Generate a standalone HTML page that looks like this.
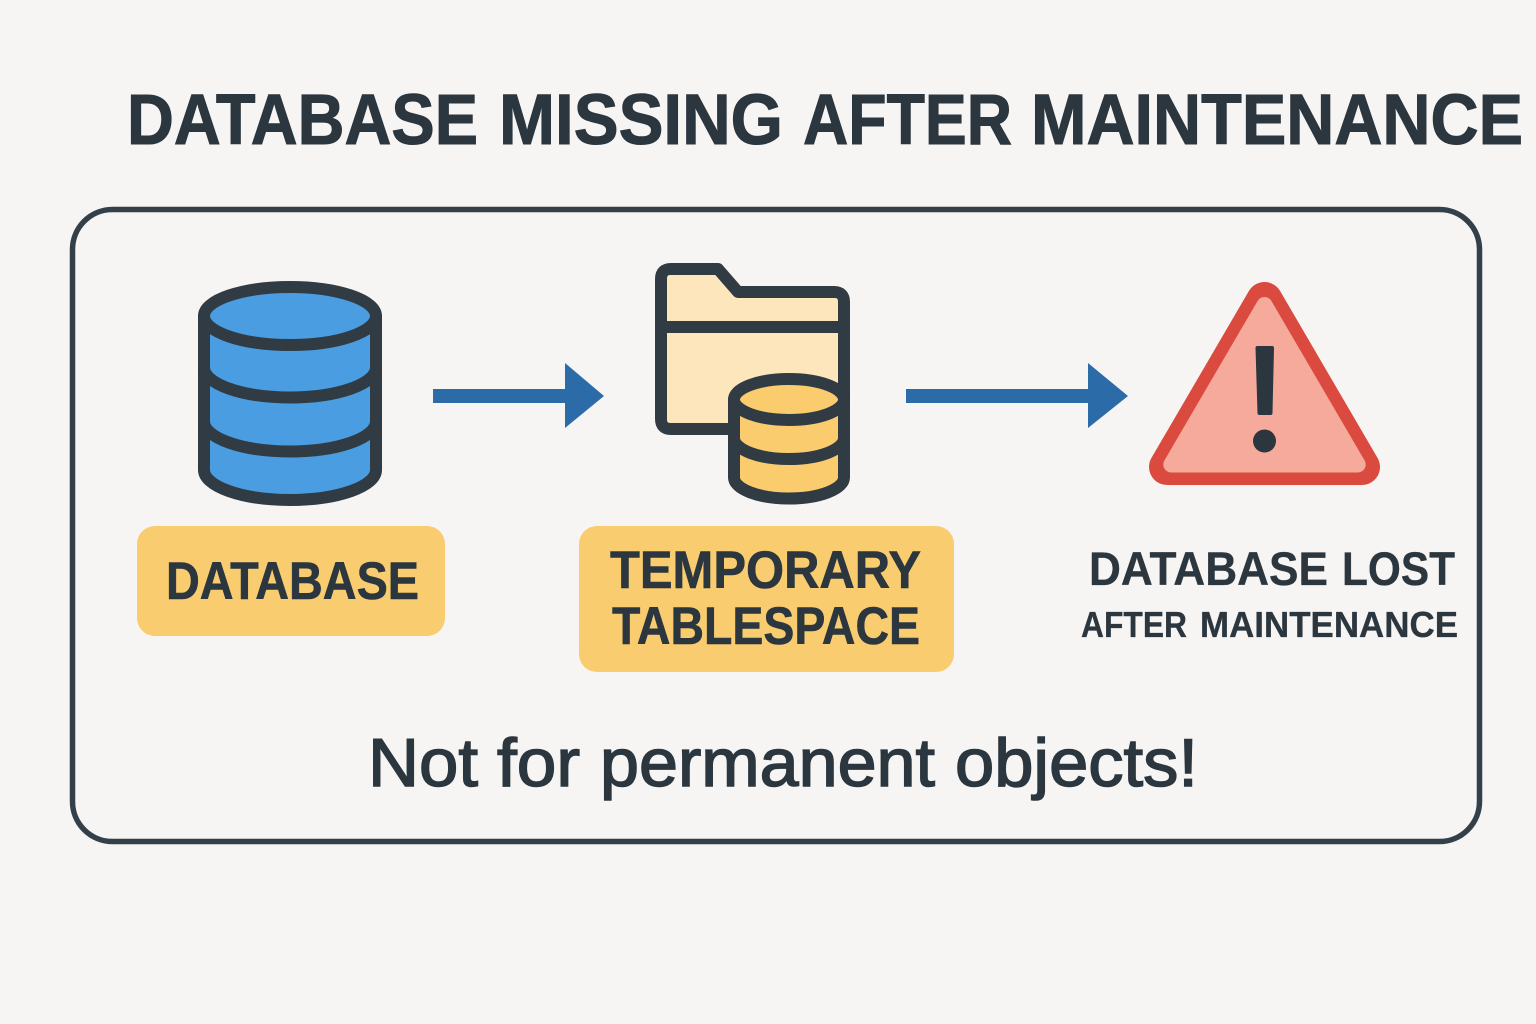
<!DOCTYPE html>
<html lang="en">
<head>
<meta charset="utf-8">
<title>Database missing after maintenance</title>
<style>
html,body{margin:0;padding:0;background:#f6f5f3;}
svg{display:block;}
text{font-family:"Liberation Sans",Arial,sans-serif;fill:#2b363f;stroke:#2b363f;}
.b{font-weight:700;}
</style>
</head>
<body>
<svg width="1536" height="1024" viewBox="0 0 1536 1024" xmlns="http://www.w3.org/2000/svg">
<rect width="1536" height="1024" fill="#f6f5f3"/>

<g stroke-width="1">
<text class="b" x="127" y="144" font-size="71" textLength="351" lengthAdjust="spacingAndGlyphs">DATABASE</text>
<text class="b" x="499" y="144" font-size="71" textLength="284" lengthAdjust="spacingAndGlyphs">MISSING</text>
<text class="b" x="803" y="144" font-size="71" textLength="209" lengthAdjust="spacingAndGlyphs">AFTER</text>
<text class="b" x="1031" y="144" font-size="71" textLength="492" lengthAdjust="spacingAndGlyphs">MAINTENANCE</text>
</g>

<rect x="72.5" y="209.5" width="1407" height="632" rx="40" ry="40" fill="none" stroke="#333f49" stroke-width="5.5"/>

<!-- database -->
<g stroke="#303b44" stroke-width="12" fill="#4a9de0">
<path d="M204 316 V470 A86 30 0 0 0 376 470 V316 Z" stroke-linejoin="round"/>
<path d="M204 367.5 A86 30 0 0 0 376 367.5" fill="none"/>
<path d="M204 421.5 A86 30 0 0 0 376 421.5" fill="none"/>
<ellipse cx="290" cy="316" rx="86" ry="29"/>
</g>

<!-- arrow 1 -->
<path d="M433 389 H565 V363 L604 396 L565 428 V403 H433 Z" fill="#2b6ca8"/>

<!-- folder -->
<path d="M671 269 H718 L738 292 H834 Q844 292 844 302 V419 Q844 429 834 429 H671 Q661 429 661 419 V279 Q661 269 671 269 Z" fill="#fde6bb" stroke="#303b44" stroke-width="12" stroke-linejoin="round"/>
<path d="M661 327 H844" stroke="#303b44" stroke-width="12" fill="none"/>

<!-- small database -->
<g stroke="#303b44" stroke-width="12" fill="#fbcc6e">
<path d="M734 399.5 V477.5 A55 21 0 0 0 844 477.5 V399.5 Z" stroke-linejoin="round"/>
<path d="M734 438 A55 21 0 0 0 844 438" fill="none"/>
<ellipse cx="789" cy="399.5" rx="55" ry="20.5"/>
</g>

<!-- arrow 2 -->
<path d="M906 389 H1088 V363 L1128 396 L1088 428 V403 H906 Z" fill="#2b6ca8"/>

<!-- warning -->
<polygon points="1264.5,300 1362,467 1167,467" fill="#db4a3e" stroke="#db4a3e" stroke-width="36" stroke-linejoin="round"/>
<polygon points="1264.5,305 1357.7,464.5 1171.3,464.5" fill="#f6aa9b" stroke="#f6aa9b" stroke-width="16" stroke-linejoin="round"/>
<path d="M1257.5 348 H1272 L1270.5 413 H1259.5 Z" fill="#2b363f" stroke="#2b363f" stroke-width="4" stroke-linejoin="round"/>
<circle cx="1264.5" cy="441" r="11.5" fill="#2b363f"/>

<!-- labels -->
<rect x="137" y="526" width="308" height="110" rx="18" fill="#f9cd6f"/>
<rect x="579" y="526" width="375" height="146" rx="18" fill="#f9cd6f"/>

<g stroke-width="0.6">
<text class="b" x="166" y="599" font-size="53" textLength="253" lengthAdjust="spacingAndGlyphs">DATABASE</text>
<text class="b" x="610" y="588" font-size="53" textLength="311" lengthAdjust="spacingAndGlyphs">TEMPORARY</text>
<text class="b" x="612" y="644" font-size="53" textLength="308" lengthAdjust="spacingAndGlyphs">TABLESPACE</text>
</g>

<g stroke-width="0.3">
<text class="b" x="1089" y="585" font-size="47" textLength="239" lengthAdjust="spacingAndGlyphs">DATABASE</text>
<text class="b" x="1342" y="585" font-size="47" textLength="113" lengthAdjust="spacingAndGlyphs">LOST</text>
<text class="b" x="1081" y="637" font-size="36" textLength="106" lengthAdjust="spacingAndGlyphs">AFTER</text>
<text class="b" x="1200" y="637" font-size="36" textLength="258" lengthAdjust="spacingAndGlyphs">MAINTENANCE</text>
</g>

<g stroke-width="1.5">
<text x="368" y="786" font-size="68" textLength="110" lengthAdjust="spacingAndGlyphs">Not</text>
<text x="497" y="786" font-size="68" textLength="83" lengthAdjust="spacingAndGlyphs">for</text>
<text x="600" y="786" font-size="68" textLength="335" lengthAdjust="spacingAndGlyphs">permanent</text>
<text x="955" y="786" font-size="68" textLength="243" lengthAdjust="spacingAndGlyphs">objects!</text>
</g>
</svg>
</body>
</html>
